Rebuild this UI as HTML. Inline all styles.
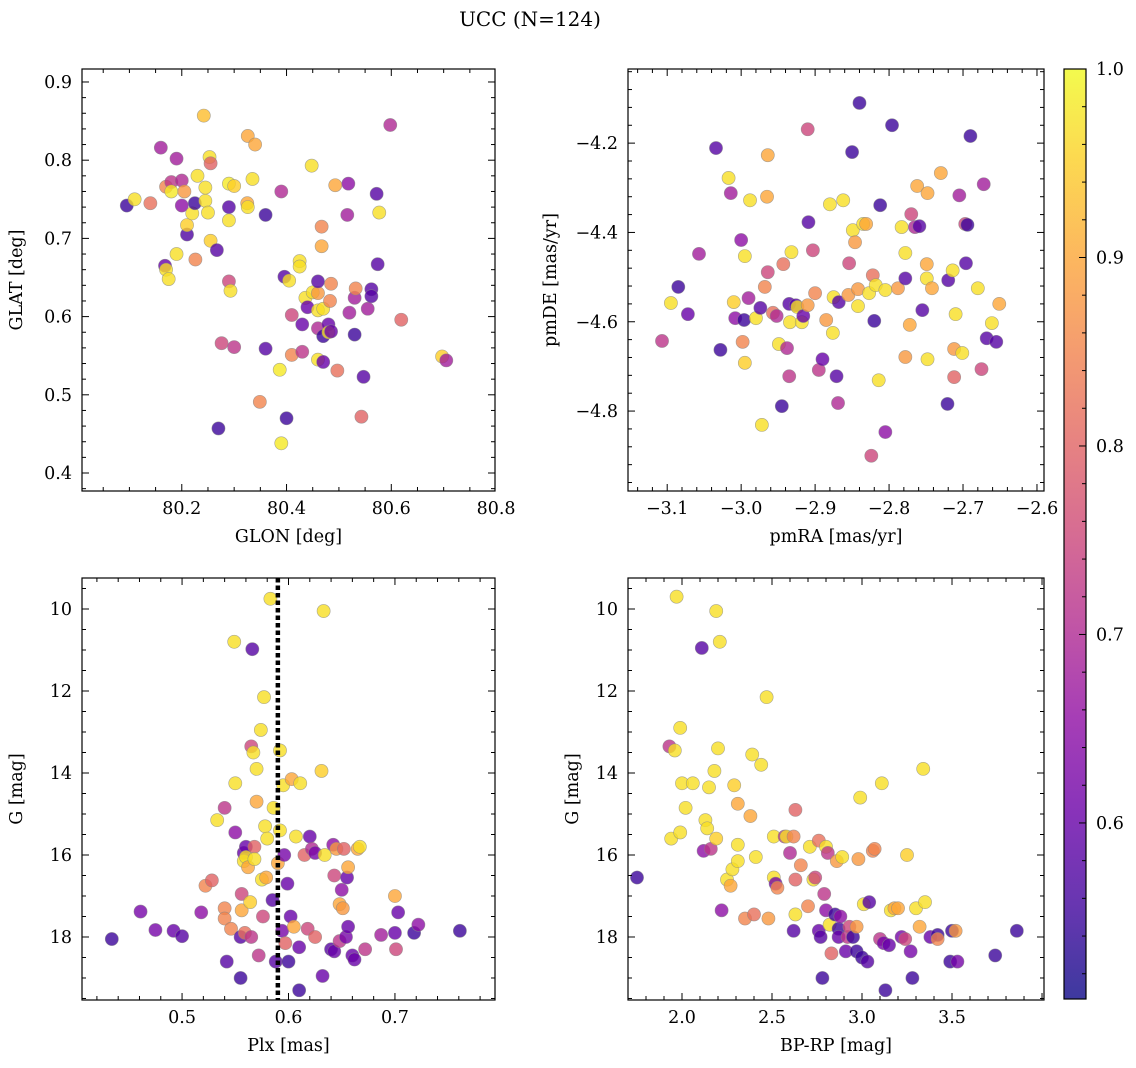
<!DOCTYPE html>
<html><head><meta charset="utf-8">
<style>
body{margin:0;background:#fff;}
svg{display:block;font-family:"DejaVu Serif","Liberation Serif",serif;}
</style></head>
<body>
<svg id="fig" width="1136" height="1068" viewBox="0 0 1136 1068" xmlns="http://www.w3.org/2000/svg">
<defs>
<linearGradient id="plasma" x1="0" y1="1" x2="0" y2="0">
<stop offset="0" stop-color="#0d0887"/><stop offset="0.1" stop-color="#41049d"/><stop offset="0.2" stop-color="#6a00a8"/><stop offset="0.3" stop-color="#8f0da4"/><stop offset="0.4" stop-color="#b12a90"/><stop offset="0.5" stop-color="#cc4778"/><stop offset="0.6" stop-color="#e16462"/><stop offset="0.7" stop-color="#f2844b"/><stop offset="0.8" stop-color="#fca636"/><stop offset="0.9" stop-color="#fcce25"/><stop offset="1" stop-color="#f0f921"/>
</linearGradient>
</defs>
<text x="530" y="26" font-size="20" text-anchor="middle">UCC (N=124)</text>
</svg>
<script>
// ---- data ----
const glon=[80.095,80.11,80.14,80.16,80.17,80.18,80.18,80.19,80.2,80.2,80.205,80.21,80.21,80.22,80.23,80.225,80.168,80.17,80.175,80.19,80.226,80.242,80.253,80.255,80.245,80.245,80.25,80.255,80.267,80.29,80.29,80.29,80.29,80.293,80.3,80.326,80.34,80.335,80.325,80.326,80.276,80.3,80.27,80.36,80.36,80.349,80.387,80.39,80.396,80.4,80.39,80.405,80.41,80.41,80.425,80.425,80.43,80.43,80.436,80.44,80.448,80.45,80.46,80.46,80.46,80.467,80.467,80.46,80.47,80.48,80.47,80.48,80.485,80.483,80.485,80.497,80.493,80.46,80.47,80.516,80.518,80.52,80.53,80.53,80.532,80.543,80.547,80.555,80.562,80.562,80.572,80.574,80.577,80.598,80.619,80.697,80.705];
const glat=[0.742,0.75,0.745,0.816,0.766,0.772,0.76,0.802,0.774,0.742,0.76,0.705,0.717,0.732,0.78,0.745,0.665,0.66,0.648,0.68,0.673,0.857,0.804,0.796,0.765,0.748,0.733,0.697,0.685,0.77,0.74,0.723,0.645,0.633,0.767,0.831,0.82,0.776,0.745,0.74,0.566,0.561,0.457,0.73,0.559,0.491,0.532,0.76,0.651,0.47,0.438,0.646,0.602,0.551,0.671,0.664,0.59,0.555,0.624,0.612,0.793,0.631,0.63,0.645,0.608,0.715,0.69,0.585,0.575,0.59,0.61,0.58,0.642,0.62,0.581,0.531,0.768,0.545,0.542,0.73,0.77,0.605,0.577,0.624,0.636,0.472,0.523,0.61,0.635,0.626,0.757,0.667,0.733,0.845,0.596,0.549,0.544];
const probTL=[.55,.97,.82,.68,.85,.72,.98,.68,.7,.65,.88,.57,.95,.97,.97,.55,.6,.97,.97,.97,.85,.93,.97,.8,.97,.97,.97,.95,.58,.98,.58,.97,.75,.97,.95,.9,.9,.97,.9,.97,.75,.72,.55,.55,.58,.85,.98,.7,.58,.55,.98,.97,.75,.85,.97,.97,.6,.72,.97,.6,.97,.97,.88,.58,.97,.85,.9,.7,.55,.6,.97,.97,.85,.85,.6,.82,.9,.97,.6,.68,.65,.68,.55,.68,.85,.8,.58,.68,.58,.58,.58,.58,.97,.7,.8,.95,.68];

const pmra=[-3.107,-3.095,-3.085,-3.072,-3.057,-3.034,-3.028,-3.017,-3.014,-3.01,-3.008,-3.0,-2.998,-2.996,-2.995,-2.995,-2.99,-2.988,-2.98,-2.974,-2.972,-2.968,-2.965,-2.964,-2.964,-2.957,-2.952,-2.949,-2.945,-2.943,-2.938,-2.935,-2.935,-2.934,-2.932,-2.926,-2.924,-2.918,-2.916,-2.91,-2.91,-2.909,-2.903,-2.9,-2.895,-2.89,-2.885,-2.88,-2.876,-2.875,-2.871,-2.869,-2.868,-2.862,-2.855,-2.854,-2.85,-2.849,-2.846,-2.842,-2.842,-2.84,-2.835,-2.831,-2.827,-2.824,-2.822,-2.82,-2.814,-2.818,-2.812,-2.805,-2.805,-2.796,-2.788,-2.783,-2.778,-2.778,-2.778,-2.772,-2.77,-2.765,-2.762,-2.759,-2.755,-2.749,-2.749,-2.748,-2.748,-2.742,-2.73,-2.721,-2.72,-2.714,-2.712,-2.712,-2.71,-2.705,-2.701,-2.697,-2.696,-2.694,-2.69,-2.68,-2.675,-2.672,-2.668,-2.661,-2.655,-2.651];
const pmde=[-4.643,-4.558,-4.522,-4.583,-4.448,-4.211,-4.663,-4.278,-4.312,-4.556,-4.592,-4.417,-4.645,-4.596,-4.692,-4.453,-4.547,-4.328,-4.592,-4.569,-4.831,-4.522,-4.32,-4.227,-4.489,-4.58,-4.587,-4.65,-4.789,-4.471,-4.659,-4.56,-4.722,-4.601,-4.444,-4.563,-4.567,-4.601,-4.587,-4.169,-4.563,-4.377,-4.44,-4.536,-4.708,-4.684,-4.596,-4.337,-4.625,-4.545,-4.722,-4.782,-4.556,-4.328,-4.54,-4.469,-4.22,-4.395,-4.422,-4.527,-4.565,-4.11,-4.381,-4.381,-4.536,-4.9,-4.496,-4.598,-4.731,-4.518,-4.339,-4.847,-4.529,-4.16,-4.525,-4.388,-4.503,-4.679,-4.446,-4.607,-4.359,-4.388,-4.296,-4.386,-4.574,-4.471,-4.503,-4.684,-4.312,-4.525,-4.267,-4.784,-4.507,-4.485,-4.661,-4.724,-4.583,-4.317,-4.67,-4.381,-4.469,-4.383,-4.184,-4.525,-4.706,-4.292,-4.637,-4.603,-4.645,-4.56];
const probTR=[.72,.97,.55,.6,.68,.58,.55,.97,.68,.95,.65,.65,.85,.55,.95,.97,.68,.97,.97,.58,.97,.85,.9,.9,.75,.82,.7,.97,.55,.82,.7,.58,.72,.97,.97,.58,.97,.97,.6,.75,.88,.58,.75,.85,.72,.6,.88,.97,.97,.97,.58,.7,.58,.97,.88,.75,.55,.97,.88,.88,.97,.55,.97,.9,.97,.75,.82,.55,.97,.97,.55,.65,.97,.55,.88,.97,.58,.88,.97,.9,.75,.7,.9,.58,.58,.9,.97,.97,.9,.9,.9,.55,.58,.97,.88,.8,.97,.68,.97,.75,.58,.55,.55,.97,.75,.68,.58,.97,.58,.9];

const plx=[0.434,0.461,0.475,0.492,0.5,0.518,0.522,0.528,0.533,0.54,0.54,0.54,0.542,0.546,0.549,0.55,0.55,0.555,0.555,0.556,0.556,0.558,0.558,0.559,0.56,0.56,0.562,0.564,0.565,0.565,0.566,0.567,0.568,0.568,0.57,0.57,0.572,0.574,0.575,0.576,0.577,0.578,0.579,0.58,0.583,0.585,0.586,0.588,0.59,0.592,0.592,0.594,0.595,0.596,0.597,0.599,0.6,0.602,0.603,0.605,0.607,0.61,0.61,0.611,0.615,0.618,0.62,0.622,0.625,0.625,0.631,0.633,0.632,0.634,0.64,0.643,0.642,0.643,0.645,0.648,0.648,0.65,0.651,0.652,0.654,0.655,0.656,0.656,0.66,0.662,0.665,0.667,0.672,0.687,0.7,0.7,0.701,0.703,0.718,0.722,0.761];
const gmagBL=[18.05,17.38,17.83,17.85,17.98,17.4,16.75,16.62,15.15,14.85,17.3,17.55,18.6,17.8,10.8,15.45,14.25,19.0,18.0,16.95,17.35,15.95,16.15,17.9,15.8,16.05,16.3,17.15,18.0,13.35,10.98,13.5,15.8,16.1,14.7,13.9,18.45,12.95,16.6,17.5,12.15,15.3,16.55,15.6,9.75,17.1,14.85,18.6,16.2,13.45,15.4,17.85,14.3,16.0,18.15,16.7,18.6,17.5,14.15,17.75,15.55,19.3,18.25,14.25,16.0,17.8,15.55,15.85,18.0,15.95,13.95,10.05,18.95,16.0,18.3,18.35,15.75,16.5,15.85,18.1,17.2,16.85,17.3,15.85,18.0,16.55,17.75,16.3,18.45,18.55,15.85,15.8,18.3,17.95,17.0,17.9,18.3,17.4,17.9,17.7,17.85];
const probBL=[.55,.62,.62,.6,.58,.65,.85,.8,.97,.72,.85,.85,.58,.85,.97,.65,.97,.55,.58,.75,.9,.6,.97,.82,.6,.97,.9,.95,.72,.75,.58,.97,.8,.97,.9,.97,.72,.97,.97,.75,.97,.97,.9,.97,.97,.58,.97,.58,.9,.97,.97,.62,.97,.62,.8,.6,.55,.6,.9,.9,.97,.55,.6,.97,.8,.75,.6,.7,.8,.62,.95,.97,.6,.97,.58,.6,.65,.75,.88,.72,.9,.65,.88,.8,.62,.6,.6,.9,.6,.6,.9,.97,.72,.68,.9,.6,.75,.6,.55,.65,.55];
const plxLine=0.59;

const bprp=[1.75,1.93,1.94,1.96,1.97,1.99,1.99,2.0,2.02,2.06,2.11,2.12,2.13,2.14,2.15,2.16,2.18,2.19,2.19,2.2,2.21,2.22,2.25,2.27,2.28,2.29,2.31,2.31,2.31,2.35,2.38,2.39,2.4,2.41,2.44,2.47,2.48,2.51,2.51,2.52,2.53,2.57,2.58,2.6,2.62,2.62,2.63,2.63,2.63,2.66,2.7,2.71,2.73,2.74,2.76,2.76,2.77,2.78,2.79,2.8,2.8,2.81,2.82,2.83,2.85,2.86,2.87,2.87,2.88,2.89,2.91,2.92,2.93,2.95,2.97,2.97,2.98,2.99,3.0,3.01,3.03,3.04,3.06,3.07,3.1,3.11,3.12,3.13,3.15,3.16,3.18,3.2,3.22,3.24,3.25,3.27,3.28,3.3,3.32,3.34,3.35,3.38,3.42,3.42,3.49,3.5,3.52,3.53,3.74,3.86];
const gmagBR=[16.55,13.35,15.6,13.45,9.7,12.9,15.45,14.25,14.85,14.25,10.95,15.9,15.15,15.35,14.35,15.85,13.95,15.6,10.05,13.4,10.8,17.35,16.6,16.75,16.35,14.3,16.15,15.75,14.75,17.55,15.05,13.55,17.45,16.05,13.8,12.15,17.55,15.55,16.55,16.7,16.8,15.55,15.55,15.95,15.55,17.85,16.6,14.9,17.45,16.25,17.25,15.8,16.6,16.55,15.65,17.85,18.0,19.0,16.95,17.35,15.8,15.95,17.7,18.4,17.45,16.15,17.8,18.0,17.5,16.05,18.35,18.0,17.75,18.0,18.35,17.75,16.1,14.6,18.5,17.2,18.6,17.15,15.9,15.85,18.05,14.25,18.15,19.3,18.2,17.35,17.3,17.3,18.0,18.05,16.0,18.35,19.0,17.3,17.75,13.9,17.15,18.0,17.95,18.05,18.6,17.85,17.85,18.6,18.45,17.85];
const probBR=[.55,.72,.97,.97,.97,.97,.97,.97,.97,.97,.58,.65,.97,.97,.97,.72,.97,.95,.97,.97,.97,.65,.97,.9,.97,.95,.97,.97,.9,.85,.9,.97,.82,.97,.97,.97,.88,.97,.97,.62,.85,.72,.97,.7,.85,.58,.8,.8,.97,.85,.85,.97,.97,.75,.82,.6,.58,.55,.72,.65,.97,.72,.97,.8,.55,.88,.55,.6,.65,.97,.6,.72,.75,.55,.55,.88,.88,.97,.55,.97,.58,.58,.85,.85,.72,.97,.62,.55,.6,.97,.9,.9,.62,.75,.95,.62,.55,.97,.9,.97,.97,.6,.55,.85,.55,.55,.88,.62,.55,.55];

const cbTicks=[0.6,0.7,0.8,0.9,1.0];
const cMin=0.5066, cMax=1.0;

// ---- rendering ----
const NS='http://www.w3.org/2000/svg';
const svg=document.getElementById('fig');
function el(tag,attrs,parent){const e=document.createElementNS(NS,tag);for(const k in attrs)e.setAttribute(k,attrs[k]);(parent||svg).appendChild(e);return e;}
const stops=[[13,8,135],[65,4,157],[106,0,168],[143,13,164],[177,42,144],[204,71,120],[225,100,98],[242,132,75],[252,166,54],[252,206,37],[240,249,33]];
function plasma(v){let t=(v-cMin)/(cMax-cMin);t=Math.max(0,Math.min(1,t))*10;const i=Math.min(9,Math.floor(t)),f=t-i;const a=stops[i],b=stops[i+1];return 'rgb('+a.map((c,j)=>Math.round(c+(b[j]-c)*f)).join(',')+')';}
function fmt(v,d){const s=v.toFixed(d);return s.replace('-','\u2212');}
const FS=17.5;

function panel(o){
  const g=el('g',{});
  
  
  const sx=v=>o.x0+(v-o.xmin)/(o.xmax-o.xmin)*(o.x1-o.x0);
  const sy=o.yinv?(v=>o.y0+(v-o.ymin)/(o.ymax-o.ymin)*(o.y1-o.y0)):(v=>o.y1-(v-o.ymin)/(o.ymax-o.ymin)*(o.y1-o.y0));
  const pg=el('g',{},g);
  
  
  for(let i=0;i<o.xs.length;i++){
    const c=el('circle',{cx:sx(o.xs[i]),cy:sy(o.ys[i]),r:6.6,fill:plasma(o.ps[i]),'fill-opacity':0.8,stroke:'#888','stroke-opacity':0.7,'stroke-width':0.6},pg);
    
    
  }
  if(o.vline!==undefined){
    const l=el('line',{x1:sx(o.vline),x2:sx(o.vline),y1:o.y0,y2:o.y1,stroke:'#000','stroke-width':4.5,'stroke-dasharray':'4.5,3'},g);
    
    
  }
  const tg=el('g',{stroke:'#000','stroke-width':1},g);
  
  
  const eps=1e-9;
  for(let v=Math.ceil(o.xmin/o.xminor)*o.xminor;v<=o.xmax+eps;v+=o.xminor){
    const isMaj=Math.abs(v/o.xmajor-Math.round(v/o.xmajor))<1e-6;const L=isMaj?7:4;const X=sx(v);
    el('line',{x1:X,x2:X,y1:o.y1,y2:o.y1-L},tg);el('line',{x1:X,x2:X,y1:o.y0,y2:o.y0+L},tg);
  }
  for(let v=Math.ceil(o.ymin/o.yminor)*o.yminor;v<=o.ymax+eps;v+=o.yminor){
    const isMaj=Math.abs(v/o.ymajor-Math.round(v/o.ymajor))<1e-6;const L=isMaj?7:4;const Y=sy(v);
    el('line',{x1:o.x0,x2:o.x0+L,y1:Y,y2:Y},tg);el('line',{x1:o.x1,x2:o.x1-L,y1:Y,y2:Y},tg);
  }
  o.xticks.forEach(v=>{const t=el('text',{x:sx(v),y:o.y1+23,'font-size':FS,'text-anchor':'middle'},g);t.textContent=fmt(v,o.xd);});
  o.yticks.forEach(v=>{const t=el('text',{x:o.x0-10,y:sy(v)+6,'font-size':FS,'text-anchor':'end'},g);t.textContent=fmt(v,o.yd);});
  el('rect',{x:o.x0,y:o.y0,width:o.x1-o.x0,height:o.y1-o.y0,fill:'none',stroke:'#000','stroke-width':1.2},g);
  const xt=el('text',{x:(o.x0+o.x1)/2,y:o.y1+51,'font-size':FS,'text-anchor':'middle'},g);xt.textContent=o.xlabel;
  
  const yx=o.ylx, ym=(o.y0+o.y1)/2;
  const yt=el('text',{x:yx,y:ym,'font-size':FS,'text-anchor':'middle',transform:'rotate(-90 '+yx+' '+ym+')'},g);yt.textContent=o.ylabel;
  
}

panel({name:'glon-glat-panel',x0:82,x1:495,y0:69,y1:491,xmin:80.0095,xmax:80.798,ymin:0.377,ymax:0.9166,xs:glon,ys:glat,ps:probTL,
  xmajor:0.2,xminor:0.05,ymajor:0.1,yminor:0.02,xticks:[80.2,80.4,80.6,80.8],yticks:[0.4,0.5,0.6,0.7,0.8,0.9],xd:1,yd:1,xlabel:'GLON [deg]',ylabel:'GLAT [deg]',ylx:22});
panel({name:'pm-panel',x0:628,x1:1044,y0:69,y1:491,xmin:-3.153,xmax:-2.5905,ymin:-4.979,ymax:-4.034,xs:pmra,ys:pmde,ps:probTR,
  xmajor:0.1,xminor:0.02,ymajor:0.2,yminor:0.04,xticks:[-3.1,-3.0,-2.9,-2.8,-2.7,-2.6],yticks:[-4.8,-4.6,-4.4,-4.2],xd:1,yd:1,xlabel:'pmRA [mas/yr]',ylabel:'pmDE [mas/yr]',ylx:556});
panel({name:'plx-g-panel',x0:82,x1:495,y0:578,y1:1000,xmin:0.406,xmax:0.794,ymin:9.244,ymax:19.537,yinv:true,xs:plx,ys:gmagBL,ps:probBL,vline:plxLine,
  xmajor:0.1,xminor:0.02,ymajor:2,yminor:0.5,xticks:[0.5,0.6,0.7],yticks:[10,12,14,16,18],xd:1,yd:0,xlabel:'Plx [mas]',ylabel:'G [mag]',ylx:22});
panel({name:'cmd-panel',x0:628,x1:1044,y0:578,y1:1000,xmin:1.7,xmax:4.011,ymin:9.244,ymax:19.537,yinv:true,xs:bprp,ys:gmagBR,ps:probBR,
  xmajor:0.5,xminor:0.1,ymajor:2,yminor:0.5,xticks:[2.0,2.5,3.0,3.5],yticks:[10,12,14,16,18],xd:1,yd:0,xlabel:'BP-RP [mag]',ylabel:'G [mag]',ylx:578});

const cb=el('g',{});


const cx0=1064,cx1=1086,cy0=69,cy1=999;
el('rect',{x:cx0,y:cy0,width:cx1-cx0,height:cy1-cy0,fill:'url(#plasma)','fill-opacity':0.8},cb);
el('rect',{x:cx0,y:cy0,width:cx1-cx0,height:cy1-cy0,fill:'none',stroke:'#000','stroke-width':1.2},cb);
const cy=v=>cy1-(v-cMin)/(cMax-cMin)*(cy1-cy0);
for(let v=0.52;v<=1.0001;v+=0.02){const maj=Math.abs(v*10-Math.round(v*10))<1e-6;el('line',{x1:cx1,x2:cx1-(maj?7:4),y1:cy(v),y2:cy(v),stroke:'#000'},cb);}
cbTicks.forEach(v=>{const t=el('text',{x:cx1+10,y:cy(v)+6,'font-size':FS},cb);t.textContent=v.toFixed(1);});
</script>
</body></html>
